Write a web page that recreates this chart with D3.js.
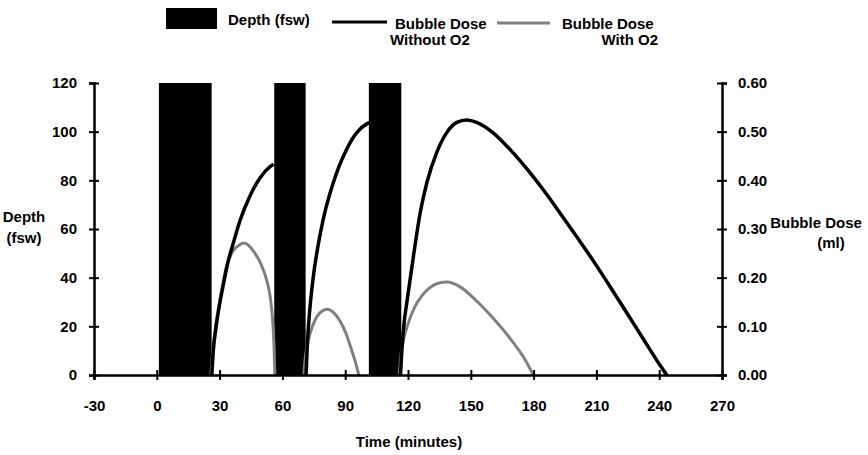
<!DOCTYPE html>
<html><head><meta charset="utf-8">
<script src="https://cdn.jsdelivr.net/npm/d3@7"></script>
<style>
html,body{margin:0;padding:0;background:#fff;}
text{font-family:"Liberation Sans",Arial,sans-serif;font-weight:bold;fill:#000;}
</style></head>
<body><svg id="c" width="868" height="455"></svg>
<script>
// ---- data ----
const xTicks = [-30, 0, 30, 60, 90, 120, 150, 180, 210, 240, 270];
const depthTicks = [0, 20, 40, 60, 80, 100, 120];
const doseTicks = [0, 0.1, 0.2, 0.3, 0.4, 0.5, 0.6];
// depth profile (fsw) as bars: start time, end time, depth
const depthStart = [1, 56.1, 101.3];
const depthEnd = [26.2, 71.1, 116.8];
const depthValue = [120, 120, 120];
// Bubble dose without O2 (ml), null separates segments
const timeNoO2 = [26.3, 27, 28.2, 30.2, 31.8, 34, 36.6, 39.8, 44.5, 49.3, 54.1, 55.8, null,
  71.3, 72, 73, 74.8, 77, 79.5, 84.3, 90.7, 95.5, 100.3, 101.8, null,
  116.4, 117.2, 118.2, 119.4, 122.6, 125.8, 129.0, 133.7, 138.5, 143.3, 148.1, 152.8, 160.8, 168.8, 176.7, 184.7, 192.6, 200.6, 208.6, 216.5, 224.5, 232.4, 240.4, 243.6];
const doseNoO2 = [0, 0.05, 0.095, 0.150, 0.186, 0.232, 0.272, 0.318, 0.368, 0.405, 0.428, 0.433, null,
  0, 0.07, 0.13, 0.203, 0.265, 0.320, 0.395, 0.464, 0.498, 0.516, 0.519, null,
  0, 0.06, 0.11, 0.148, 0.244, 0.333, 0.395, 0.457, 0.498, 0.519, 0.524, 0.519, 0.497, 0.463, 0.424, 0.380, 0.333, 0.284, 0.234, 0.182, 0.128, 0.074, 0.020, 0];
// Bubble dose with O2 (ml)
const timeO2 = [25.8, 27.5, 30, 33.4, 36.6, 39.8, 41.5, 44, 46.1, 49.3, 52.5, 54.2, 55.3, 56, 56.4, null,
  70.3, 70.8, 71.6, 73.2, 75.5, 78, 81.5, 84.5, 87.5, 90.5, 93, 95.3, 96.5, null,
  115.8, 116.6, 118, 120, 123, 126.5, 130, 134, 138.5, 144.9, 152.8, 160.8, 168.8, 175, 179.9];
const doseO2 = [0, 0.08, 0.15, 0.225, 0.256, 0.268, 0.271, 0.266, 0.255, 0.232, 0.195, 0.160, 0.115, 0.06, 0, null,
  0, 0.03, 0.055, 0.085, 0.112, 0.128, 0.135, 0.128, 0.111, 0.084, 0.052, 0.02, 0, null,
  0, 0.04, 0.075, 0.105, 0.138, 0.162, 0.178, 0.188, 0.191, 0.181, 0.152, 0.116, 0.075, 0.038, 0];
const legendLabels = ["Depth (fsw)", "Bubble Dose", "Without O2", "Bubble Dose", "With O2"];

// ---- drawing ----
const FS = "15px";
const svg = d3.select("#c");
const x = d3.scaleLinear().domain([-30, 270]).range([94, 722]);
const yD = d3.scaleLinear().domain([0, 120]).range([375, 83]);
const yB = d3.scaleLinear().domain([0, 0.6]).range([375, 83]);
const GREY = "#808080";

// bars
const bars = depthStart.map((s, i) => ({s, e: depthEnd[i], v: depthValue[i]}));
svg.append("g").selectAll("rect").data(bars).join("rect")
  .attr("x", d => x(d.s)).attr("width", d => x(d.e) - x(d.s))
  .attr("y", d => yD(d.v)).attr("height", d => yD(0) - yD(d.v))
  .attr("fill", "#000");

function series(ts, vs) { return ts.map((t, i) => ({t, v: vs[i]})); }
const line = d3.line().defined(d => d.v != null).x(d => x(d.t)).y(d => yB(d.v)).curve(d3.curveMonotoneX);
svg.append("path").datum(series(timeO2, doseO2)).attr("d", line)
  .attr("fill", "none").attr("stroke", GREY).attr("stroke-width", 3);
svg.append("path").datum(series(timeNoO2, doseNoO2)).attr("d", line)
  .attr("fill", "none").attr("stroke", "#000").attr("stroke-width", 3.5);

// axes
function crossTicks(g, horiz) {
  g.select(".domain").attr("stroke", "#000").attr("stroke-width", 2.5);
  g.selectAll(".tick line").attr("stroke", "#000").attr("stroke-width", 2);
  if (horiz) g.selectAll(".tick line").attr("y1", -5).attr("y2", 5);
  else g.selectAll(".tick line").attr("x1", -5).attr("x2", 5);
  g.selectAll("text").style("font-size", FS).style("font-family", "'Liberation Sans',Arial,sans-serif").style("font-weight", "bold");
}
const gx = svg.append("g").attr("transform", `translate(0,${yD(0)})`)
  .call(d3.axisBottom(x).tickValues(xTicks).tickSizeOuter(0).tickSize(5).tickPadding(20).tickFormat(d => String(d)));
crossTicks(gx, true);
const gl = svg.append("g").attr("transform", `translate(${x(-30)},0)`)
  .call(d3.axisLeft(yD).tickValues(depthTicks).tickSizeOuter(0).tickSize(5).tickPadding(12).tickFormat(d => String(d)));
crossTicks(gl, false);
const gr = svg.append("g").attr("transform", `translate(${x(270)},0)`)
  .call(d3.axisRight(yB).tickValues(doseTicks).tickSizeOuter(0).tickSize(5).tickPadding(11).tickFormat(d3.format(".2f")));
crossTicks(gr, false);

// axis titles
const T = (txt, tx, ty, anchor) => svg.append("text").attr("x", tx).attr("y", ty)
  .attr("text-anchor", anchor || "middle").attr("dominant-baseline", "central")
  .style("font-size", FS).text(txt);
T("Time (minutes)", 409, 441);
T("Depth", 24, 216);
T("(fsw)", 24, 237);
T("Bubble Dose", 816, 222);
T("(ml)", 831, 242);

// legend
svg.append("rect").attr("x", 166).attr("y", 8).attr("width", 51).attr("height", 21).attr("fill", "#000");
T(legendLabels[0], 228, 19, "start");
svg.append("line").attr("x1", 332).attr("x2", 387).attr("y1", 22).attr("y2", 22).attr("stroke", "#000").attr("stroke-width", 3);
T(legendLabels[1], 395, 23, "start");
T(legendLabels[2], 390, 39, "start");
svg.append("line").attr("x1", 497).attr("x2", 550).attr("y1", 23).attr("y2", 23).attr("stroke", GREY).attr("stroke-width", 3);
T(legendLabels[3], 562, 23, "start");
T(legendLabels[4], 658, 39, "end");
</script></body></html>
